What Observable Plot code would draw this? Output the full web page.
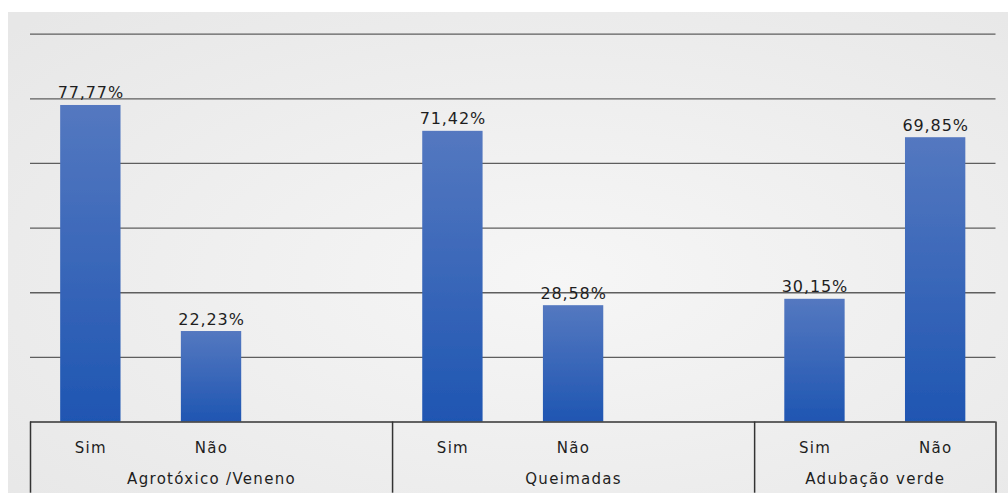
<!DOCTYPE html>
<html>
<head>
<meta charset="utf-8">
<script src="https://cdn.jsdelivr.net/npm/d3@7"></script>
<script src="https://cdn.jsdelivr.net/npm/@observablehq/plot@0.6"></script>
<style>
  html, body { margin: 0; padding: 0; background: #ffffff; }
  #chart svg { display: block; }
  #chart svg text { letter-spacing: 1.3px; }
  #chart svg .vlabel text { letter-spacing: 0.9px; }
</style>
</head>
<body>
<div id="chart"></div>
<script>
// ---- data ----
const groups = ["Agrotóxico /Veneno", "Queimadas", "Adubação verde"];
const answers = ["Sim", "Não"];
const simValues = [77.77, 71.42, 30.15];
const naoValues = [22.23, 28.58, 69.85];
const gridStep = 15.88;   // value spacing of the horizontal gridlines
const gridCount = 6;

// ---- build table (slot = position on the category axis, with a blank slot after each group) ----
const rows = [];
groups.forEach((g, gi) => {
  [simValues[gi], naoValues[gi]].forEach((v, ai) => {
    rows.push({group: g, answer: answers[ai], value: v, slot: gi * 3 + ai});
  });
});
const slotLabel = new Map(rows.map(d => [d.slot, d.answer]));
const groupCenters = groups.map((g, gi) => {
  const s = rows.filter(d => d.group === g).map(d => d.slot);
  const last = gi < groups.length - 1 ? s[s.length - 1] + 1 : s[s.length - 1];
  return {group: g, center: (s[0] + last) / 2};
});
const groupLabel = new Map(groupCenters.map(d => [d.center, d.group]));
const separators = [-0.5, 2.5, 5.5, 7.5];
const gridTicks = d3.range(1, gridCount + 1).map(i => i * gridStep);
const fmt = v => v.toFixed(2).replace(".", ",") + "%";

const chart = Plot.plot({
  width: 1008,
  height: 493,
  marginLeft: 30,
  marginRight: 12.5,
  marginTop: 14.5,
  marginBottom: 71.5,
  x: {type: "linear", domain: [-0.5, 7.5], axis: null},
  y: {domain: [0, 100], axis: null},
  style: {background: "transparent", fontFamily: "'DejaVu Sans', sans-serif", color: "#1e1e1e"},
  marks: [
    Plot.ruleY(gridTicks, {stroke: "#5e5e5e", strokeWidth: 1.3, strokeOpacity: 1}),
    Plot.rect(rows, {
      x1: d => d.slot - 0.25, x2: d => d.slot + 0.25,
      y1: 0, y2: "value",
      fill: "url(#barGrad)", className: "bars"
    }),
    Plot.ruleY([0], {stroke: "#333", strokeWidth: 1.5}),
    Plot.ruleX(separators, {y1: 0, y2: -17.5, stroke: "#333", strokeWidth: 1.5}),
    Plot.text(rows, {
      x: "slot", y: "value", text: d => fmt(d.value),
      lineAnchor: "bottom", dy: -7, fontSize: 16, fill: "#1e1e1e", className: "vlabel"
    }),
    Plot.axisX(rows.map(d => d.slot), {
      tickSize: 0, tickPadding: 20, fontSize: 15, fill: "#1e1e1e",
      tickFormat: d => slotLabel.get(d), label: null
    }),
    Plot.axisX(groupCenters.map(d => d.center), {
      tickSize: 0, tickPadding: 51.5, fontSize: 15, fill: "#1e1e1e",
      tickFormat: d => groupLabel.get(d), label: null
    })
  ]
});

// gradients & background panel (styling only)
const svg = d3.select(chart);
const defs = svg.insert("defs", ":first-child");
const bg = defs.append("radialGradient").attr("id", "bgGrad")
  .attr("cx", "0.55").attr("cy", "0.55").attr("r", "0.75");
bg.append("stop").attr("offset", "0%").attr("stop-color", "#f6f6f6");
bg.append("stop").attr("offset", "100%").attr("stop-color", "#e7e7e7");
const bar = defs.append("linearGradient").attr("id", "barGrad")
  .attr("x1", 0).attr("y1", 0).attr("x2", 0).attr("y2", 1);
bar.append("stop").attr("offset", "0%").attr("stop-color", "#5478c0");
bar.append("stop").attr("offset", "100%").attr("stop-color", "#1f56b2");
const blur = defs.append("filter").attr("id", "soft")
  .attr("x", "-10%").attr("y", "-10%").attr("width", "120%").attr("height", "120%");
blur.append("feGaussianBlur").attr("stdDeviation", 0.7);
svg.selectAll("g.bars").attr("filter", "url(#soft)");
svg.insert("rect", "defs + *")
  .attr("x", 8).attr("y", 12).attr("width", 1000).attr("height", 481)
  .attr("fill", "url(#bgGrad)");

document.getElementById("chart").appendChild(chart);
</script>
</body>
</html>
